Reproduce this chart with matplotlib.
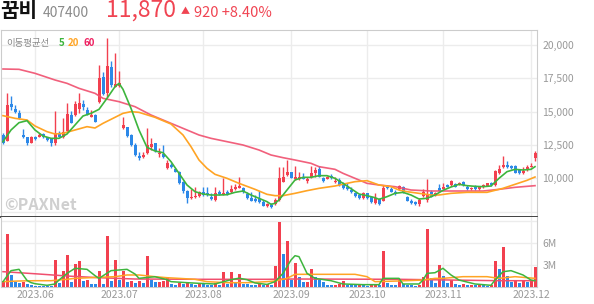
import numpy as np
import matplotlib.pyplot as plt

plt.rcParams['font.family'] = ['Noto Sans CJK KR', 'DejaVu Sans']

# ---- data ----
month_labels = ['2023.06', '2023.07', '2023.08', '2023.09', '2023.10', '2023.11', '2023.12']
month_pos = [8, 29, 50, 72, 91, 110, 132]

opens = [13250, 12825, 15575, 15225, 14875, 13250, 13075, 12675, 13075, 13125,
         13325, 13075, 12925, 12625, 13425, 13075, 13550, 14725, 14750, 15175,
         15575, 15125, 14625, 14750, 15750, 17625, 16375, 18325, 16875, 16925,
         13750, 13825, 13250, 12500, 11675, 11575, 11875, 12375, 12625, 11825,
         11825, 10750, 11000, 10675, 10500, 9750, 9050, 8500, 8575, 8700,
         8950, 8925, 8625, 8375, 8950, 8775, 9000, 8950, 9175, 9300,
         9300, 8800, 8500, 8450, 8425, 8250, 7925, 8000, 8075, 8375,
         9750, 10250, 10450, 9950, 9950, 10125, 9800, 10075, 10425, 10675,
         10000, 9975, 10200, 9725, 9875, 9575, 9375, 9125, 8875, 8725,
         8500, 8875, 8575, 8125, 8425, 8325, 9375, 9175, 8950, 9200,
         9375, 8625, 8325, 8250, 8075, 8675, 8375, 9000, 8700, 9250,
         9225, 9500, 9500, 9575, 9550, 9750, 9375, 9175, 9375, 9200,
         9325, 9450, 9675, 9500, 10375, 10825, 11000, 10950, 10925, 10625,
         10375, 10625, 10875, 11500]
closes = [12625, 15500, 15325, 15000, 14550, 13075, 12625, 13075, 12925, 13250,
          13075, 12875, 12625, 13325, 13125, 13450, 14825, 14175, 15575, 15675,
          15325, 14825, 14750, 14250, 17500, 16325, 18425, 17000, 17050, 17125,
          14000, 13175, 12500, 11750, 11550, 11750, 12500, 12550, 12075, 11925,
          11575, 11175, 10825, 10500, 9625, 9050, 8500, 8625, 8700, 9000,
          8750, 8750, 8450, 8875, 8800, 8925, 8800, 9175, 9325, 9425,
          8950, 8550, 8325, 8300, 8225, 7950, 8075, 7825, 8375, 10000,
          10125, 10500, 10050, 10125, 10075, 9975, 9975, 10425, 10625, 10125,
          9825, 10125, 10000, 9825, 9500, 9250, 9175, 8950, 8675, 8500,
          8875, 8500, 8250, 8500, 8075, 9250, 9250, 9000, 8800, 9425,
          8925, 8325, 8125, 8075, 8375, 9000, 8750, 8625, 8875, 9075,
          9375, 9375, 9800, 9375, 9675, 9500, 9175, 9250, 9175, 9325,
          9475, 9625, 9500, 10575, 10675, 11000, 10825, 10800, 10425, 10375,
          10575, 10875, 10950, 11870]
highs = [13375, 16375, 16175, 15500, 15125, 13675, 13125, 13175, 13175, 13375,
         13425, 13125, 13000, 15050, 13575, 14550, 15675, 15075, 15825, 16425,
         15875, 15375, 15125, 14825, 18500, 18000, 20500, 18825, 19375, 18075,
         14575, 13875, 13325, 12625, 12000, 12000, 13750, 13000, 12675, 12250,
         12500, 11375, 11175, 10750, 10575, 9825, 9125, 9175, 9325, 9075,
         9375, 9325, 8875, 9375, 9125, 10000, 9125, 9500, 9575, 10125,
         9375, 9000, 9000, 8750, 9075, 8375, 8175, 8125, 8500, 10875,
         10825, 11375, 10500, 10925, 10500, 10425, 10125, 10925, 10875, 10925,
         10125, 10200, 10300, 10125, 10000, 9750, 9625, 9375, 9000, 8800,
         9000, 8925, 8675, 8875, 8500, 9500, 9500, 9325, 9125, 9500,
         9425, 8700, 8425, 8325, 8500, 9175, 9950, 9125, 8950, 9575,
         9625, 9575, 9875, 9675, 9750, 9825, 9500, 9375, 9500, 9425,
         9550, 9675, 9750, 10625, 11000, 11675, 11325, 11025, 11000, 10700,
         10825, 11000, 11125, 12050]
lows = [12575, 12775, 15125, 14875, 14425, 13000, 12500, 12625, 12875, 13075,
        13000, 12825, 12425, 12500, 13075, 13025, 13500, 14125, 14675, 14925,
        15125, 14750, 14575, 14200, 15625, 16250, 16125, 16875, 16825, 16875,
        13700, 13125, 12425, 11675, 11375, 11500, 11825, 12125, 12000, 11625,
        11500, 10675, 10750, 10450, 9550, 8925, 8175, 8450, 8500, 8575,
        8700, 8700, 8375, 8325, 8725, 8725, 8725, 8875, 9125, 9250,
        8875, 8450, 8300, 8250, 8125, 7925, 7875, 7775, 8025, 8325,
        9700, 10200, 10000, 9875, 9875, 9925, 9625, 10000, 10125, 10075,
        9750, 9925, 9950, 9675, 9450, 9200, 9125, 8875, 8625, 8450,
        8450, 8450, 8175, 8075, 8000, 8275, 9200, 8950, 8750, 9150,
        8875, 8275, 8075, 8025, 7925, 8625, 8250, 8575, 8650, 9025,
        9175, 9325, 9450, 9325, 9500, 9450, 9125, 9125, 9125, 9150,
        9275, 9400, 9450, 9450, 10325, 10750, 10775, 10725, 10375, 10325,
        10325, 10575, 10825, 11325]
# volume in millions of shares
volumes = [0.8, 7.2, 1.6, 0.75, 0.6, 0.75, 0.4, 0.25, 0.15, 0.14,
           0.13, 0.12, 0.11, 3.7, 0.6, 2.2, 4.4, 0.75, 3.1, 3.5,
           0.8, 0.95, 0.45, 0.4, 2.2, 0.4, 6.9, 0.85, 3.7, 0.95,
           2.2, 0.75, 0.8, 0.5, 0.8, 0.6, 4.2, 0.95, 0.7, 0.75,
           0.85, 1.4, 0.4, 0.3, 0.6, 0.45, 0.6, 0.4, 0.3, 0.6,
           0.35, 0.3, 0.25, 0.5, 0.3, 2.1, 0.45, 2.1, 0.5, 1.8,
           0.4, 0.35, 0.3, 0.25, 0.4, 0.3, 0.35, 0.3, 2.8, 8.8,
           4.5, 6.3, 0.95, 3.3, 1.4, 0.65, 0.75, 2.4, 1.4, 0.95,
           0.65, 0.3, 0.25, 0.3, 0.4, 0.85, 0.3, 0.28, 0.25, 0.3,
           0.22, 0.2, 0.25, 0.3, 0.25, 4.9, 0.6, 0.3, 0.25, 1.05,
           0.4, 0.3, 0.25, 0.2, 0.3, 1.4, 7.9, 1.2, 0.5, 3.0,
           1.5, 0.6, 0.95, 0.4, 0.3, 0.35, 0.25, 0.3, 0.25, 0.3,
           0.25, 0.2, 0.3, 3.5, 2.4, 5.4, 1.5, 0.75, 0.85, 0.5,
           0.85, 0.7, 0.85, 2.7]

# moving average lines
ma5_x = [0, 2, 4, 6, 8, 10, 12, 14, 16, 18, 20, 22, 24, 26, 28, 29, 30, 32, 34, 36,
         38, 40, 42, 44, 46, 48, 50, 52, 54, 56, 58, 60, 62, 64, 66, 67, 68, 69, 70, 71,
         72, 73, 75, 77, 79, 81, 83, 85, 87, 89, 91, 93, 94, 96, 98, 100, 102, 104, 106, 108,
         110, 112, 114, 116, 118, 120, 122, 124, 126, 128, 130, 132, 133]
ma5 = [12750, 13625, 14175, 14325, 13625, 13175, 13000, 13000, 13325, 14000,
       14675, 14875, 15175, 16000, 16875, 17125, 16675, 15250, 13625, 12325,
       12050, 11925, 11250, 10375, 9500, 9000, 8825, 8750, 8750, 8775,
       8950, 9050, 8750, 8500, 8250, 8050, 8125, 8375, 8750, 9125,
       9500, 9875, 10075, 10075, 10200, 10200, 10000, 9625, 9225, 8825,
       8700, 8550, 8425, 8625, 8875, 8950, 8750, 8450, 8500, 8750,
       9100, 9350, 9550, 9450, 9400, 9375, 9425, 10000, 10500, 10675,
       10625, 10675, 10875]
ma20_x = [0, 3, 6, 8, 11, 13, 15, 18, 21, 23, 25, 28, 30, 32, 34, 38, 42, 45, 47, 49,
          51, 53, 56, 59, 63, 66, 68, 70, 73, 76, 79, 83, 86, 88, 91, 94, 97, 99, 101, 104,
          107, 109, 112, 116, 121, 125, 128, 131, 133]
ma20 = [14700, 14500, 14375, 13925, 13500, 13325, 13375, 13625, 13875, 13775,
        14125, 14575, 14875, 15000, 14950, 14575, 14075, 13250, 12375, 11375,
        10750, 10300, 10000, 9625, 9175, 8800, 8700, 8700, 8875, 9075,
        9250, 9425, 9625, 9750, 9825, 9500, 9375, 9125, 9000, 8875,
        8750, 8750, 8875, 8950, 8950, 9250, 9550, 9850, 10100]
ma60_x = [0, 4, 8, 13, 16, 19, 23, 25, 29, 33, 37, 39, 43, 46, 49, 52, 56, 60, 64, 67,
          70, 73, 77, 79, 83, 85, 88, 91, 94, 98, 102, 107, 120, 124, 128, 133]
ma60 = [18200, 18175, 17875, 17375, 17125, 16750, 16375, 16000, 15750, 15375,
        14750, 14500, 14000, 13625, 13250, 13000, 12750, 12500, 12125, 11750,
        11550, 11375, 11125, 10875, 10675, 10375, 10000, 9625, 9500, 9375,
        9125, 9050, 9050, 9175, 9325, 9450]

vma5_x = [0, 2, 4, 6, 7, 8, 11, 13, 14, 16, 18, 21, 23, 24, 27, 31, 33, 34, 36, 38,
          41, 42, 46, 49, 53, 55, 57, 59, 61, 63, 66, 68, 70, 72, 73, 74, 76, 78, 82, 85,
          90, 94, 95, 99, 100, 104, 105, 106, 108, 110, 112, 114, 118, 122, 123, 125, 127, 130, 132, 133]
vma5 = [0.73, 2.23, 2.41, 0.9, 0.6, 0.45, 0.23, 0.41, 0.95, 1.86,
        2.55, 2.41, 1.55, 1.18, 2.23, 2.41, 1.77, 1.18, 1.3, 1.4,
        1.0, 0.73, 0.59, 0.5, 0.41, 0.7, 1.0, 1.2, 1.0, 0.55,
        0.35, 0.73, 1.86, 3.68, 4.27, 4.14, 1.86, 1.18, 0.86, 0.41,
        0.32, 0.32, 1.18, 1.18, 0.41, 0.41, 0.95, 1.86, 1.95, 2.55,
        1.64, 0.95, 0.41, 0.23, 0.95, 2.09, 2.23, 1.64, 0.95, 0.86]
vma20_x = [0, 4, 8, 12, 16, 18, 24, 28, 31, 34, 38, 41, 44, 48, 51, 56, 61, 66, 68, 71,
           73, 74, 88, 91, 93, 99, 105, 108, 110, 115, 121, 124, 128, 133]
vma20 = [0.73, 0.82, 0.86, 0.86, 1.05, 1.18, 1.32, 1.41, 1.64, 1.64,
         1.41, 1.27, 1.18, 1.05, 0.73, 0.59, 0.59, 0.73, 0.82, 1.18,
         1.73, 1.73, 1.73, 1.41, 0.73, 0.82, 0.95, 1.18, 1.18, 1.41,
         1.41, 1.18, 1.41, 1.18]
vma60_x = [0, 4, 9, 16, 24, 33, 49, 66, 73, 99, 112, 124, 133]
vma60 = [2.09, 1.95, 1.77, 1.5, 1.27, 1.09, 1.05, 1.05, 1.09, 1.05, 0.95, 0.86, 0.86]

# ---- style ----
RED = '#f2404f'
BLUE = '#2c88e8'
GREEN = '#3db53d'
ORANGE = '#ffa424'
PINK = '#f04f6e'
GRID = '#ececec'
TXT = '#999999'

W, H = 594, 304
fig = plt.figure(figsize=(W / 100, H / 100), dpi=100)


def px_box(x0, y0, x1, y1):
    return [x0 / W, 1 - y1 / H, (x1 - x0) / W, (y1 - y0) / H]


ax = fig.add_axes(px_box(1, 30, 537, 217))
axv = fig.add_axes(px_box(1, 217, 537, 287))

x = np.arange(len(closes))
o = np.array(opens)
c = np.array(closes)
up = c >= o
ccol = np.where(up, RED, BLUE)

# price panel
ax.vlines(x, lows, highs, colors=ccol, linewidth=1.0, zorder=3)
body_bot = np.minimum(o, c)
body_h = np.maximum(np.abs(c - o), 70)
ax.bar(x, body_h, bottom=body_bot, width=0.75, color=ccol, linewidth=0, zorder=4)
ax.plot(ma60_x, ma60, color=PINK, lw=1.2, zorder=5, alpha=0.9)
ax.plot(ma20_x, ma20, color=ORANGE, lw=1.2, zorder=5)
ax.plot(ma5_x, ma5, color=GREEN, lw=1.2, zorder=6)

ax.set_xlim(-0.5, 133.5)
ax.set_ylim(7100, 21125)
ax.set_yticks([7500, 10000, 12500, 15000, 17500, 20000])
ax.set_yticklabels(['', '10,000', '12,500', '15,000', '17,500', '20,000'])
ax.yaxis.tick_right()
ax.set_xticks(month_pos)
ax.set_xticklabels([])
ax.grid(True, color=GRID, lw=1, zorder=0)
ax.tick_params(axis='both', length=0, labelsize=7.5, labelcolor=TXT, pad=4)
for s in ['top', 'right', 'left']:
    ax.spines[s].set_color('#cccccc')
ax.spines['bottom'].set_color('#333333')
ax.spines['bottom'].set_linewidth(1.3)

# volume panel
vol = np.array(volumes)
vcol = [RED] + [RED if vol[i] > vol[i - 1] else BLUE for i in range(1, len(vol))]
axv.bar(x, vol, width=0.75, color=vcol, linewidth=0, zorder=3)
axv.plot(vma60_x, vma60, color=PINK, lw=1.1, zorder=4)
axv.plot(vma20_x, vma20, color=ORANGE, lw=1.1, zorder=4)
axv.plot(vma5_x, vma5, color=GREEN, lw=1.1, zorder=5)
axv.set_xlim(-0.5, 133.5)
axv.set_ylim(0, 9.55)
axv.set_yticks([3, 6, 9])
axv.set_yticklabels(['3M', '6M', ''])
axv.yaxis.tick_right()
axv.set_xticks(month_pos)
axv.set_xticklabels(month_labels)
axv.grid(True, color=GRID, lw=1, zorder=0)
axv.tick_params(axis='both', length=0, labelsize=7.5, labelcolor=TXT, pad=4)
axv.tick_params(axis='x', pad=2)
for s in ['bottom', 'right', 'left']:
    axv.spines[s].set_color('#cccccc')
axv.spines['top'].set_visible(False)

# header
def ftext(px, py, s, **kw):
    fig.text(px / W, 1 - py / H, s, va='baseline', ha='left', **kw)


ftext(0, 17, '꿈비', fontsize=14.5, fontweight='bold', color='#111111')
ftext(43, 17, '407400', fontsize=10, color='#8a8a8a')
ftext(106, 17, '11,870', fontsize=16.5, color='#f04452')
ftext(181, 14, '▲', fontsize=6.5, color='#f04452')
ftext(194, 17, '920 +8.40%', fontsize=10.5, color='#f04452')

ftext(6, 46, '이동평균선', fontsize=6.8, color='#8a8a8a')
ftext(59, 46, '5', fontsize=7, color=GREEN, fontweight='bold')
ftext(68, 46, '20', fontsize=7, color=ORANGE, fontweight='bold')
ftext(83, 46, '60', fontsize=7, color='#ee2060', fontweight='bold')

ftext(4, 210, '©PAXNet', fontsize=11.5, fontweight='bold', color='#cfcfcf')

fig.savefig('out.png', dpi=100)
